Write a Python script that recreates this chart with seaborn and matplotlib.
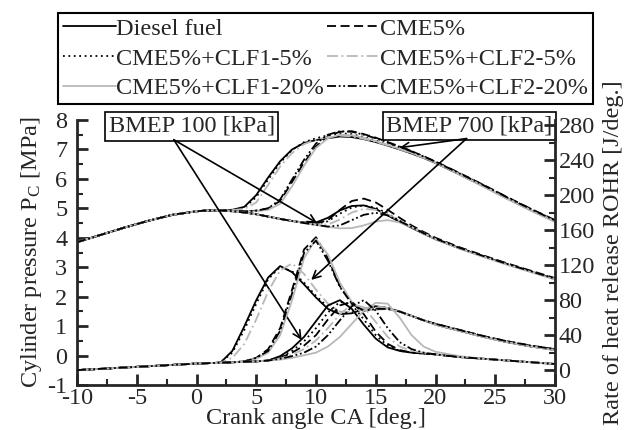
import matplotlib
matplotlib.use("Agg")
import matplotlib.pyplot as plt
from matplotlib.ticker import MultipleLocator
import seaborn as sns
import pandas as pd

# ---------------- data ----------------
CA = [-10, -8, -6, -4, -2, 0, 1, 2, 3, 4, 5, 6, 7, 8, 9, 10, 11, 12, 13, 14, 15,
      16, 17, 18, 19, 20, 22, 24, 26, 28, 30]

FUELS = ["Diesel fuel", "CME5%", "CME5%+CLF1-5%", "CME5%+CLF2-5%",
         "CME5%+CLF1-20%", "CME5%+CLF2-20%"]

# Cylinder pressure, BMEP 700 kPa [MPa]
P700_DIESEL = [3.85, 4.10, 4.35, 4.58, 4.78, 4.90, 4.93, 4.93, 4.95, 5.05, 5.45, 6.05, 6.60, 7.00, 7.22, 7.32,
               7.38, 7.44, 7.42, 7.35, 7.25, 7.13, 7.00, 6.86, 6.71, 6.54, 6.15, 5.75, 5.33, 4.93, 4.55]
P700_CME5 = [3.85, 4.10, 4.35, 4.58, 4.78, 4.90, 4.93, 4.93, 4.92, 4.90, 4.92, 5.00, 5.25, 5.90, 6.55, 7.10,
             7.45, 7.60, 7.62, 7.52, 7.40, 7.25, 7.10, 6.94, 6.77, 6.59, 6.20, 5.80, 5.38, 4.98, 4.60]
P700_CLF1_5 = [3.85, 4.10, 4.35, 4.58, 4.78, 4.90, 4.93, 4.93, 4.95, 5.02, 5.38, 5.98, 6.55, 6.98, 7.25, 7.38,
               7.48, 7.55, 7.52, 7.42, 7.30, 7.17, 7.04, 6.90, 6.75, 6.58, 6.19, 5.79, 5.37, 4.97, 4.58]
P700_CLF2_5 = [3.85, 4.10, 4.35, 4.58, 4.78, 4.90, 4.93, 4.93, 4.94, 4.98, 5.20, 5.80, 6.42, 6.88, 7.18, 7.33,
               7.42, 7.47, 7.44, 7.36, 7.26, 7.14, 7.01, 6.87, 6.72, 6.55, 6.16, 5.76, 5.34, 4.94, 4.56]
P700_CLF1_20 = [3.85, 4.10, 4.35, 4.58, 4.78, 4.90, 4.93, 4.93, 4.92, 4.90, 4.90, 4.95, 5.15, 5.75, 6.45, 7.05,
                7.38, 7.50, 7.48, 7.40, 7.28, 7.15, 7.02, 6.88, 6.72, 6.55, 6.15, 5.74, 5.32, 4.92, 4.54]
P700_CLF2_20 = [3.85, 4.10, 4.35, 4.58, 4.78, 4.90, 4.93, 4.93, 4.92, 4.90, 4.92, 5.00, 5.30, 5.98, 6.65, 7.20,
                7.50, 7.62, 7.60, 7.50, 7.38, 7.24, 7.09, 6.93, 6.76, 6.58, 6.19, 5.79, 5.37, 4.97, 4.59]

# Cylinder pressure, BMEP 100 kPa [MPa]
P100_DIESEL = [3.85, 4.10, 4.35, 4.58, 4.78, 4.90, 4.93, 4.93, 4.90, 4.86, 4.80, 4.72, 4.64, 4.57, 4.52, 4.52,
               4.68, 4.93, 5.08, 5.10, 4.98, 4.76, 4.54, 4.34, 4.14, 3.95, 3.64, 3.37, 3.10, 2.85, 2.60]
P100_CME5 = [3.85, 4.10, 4.35, 4.58, 4.78, 4.90, 4.93, 4.93, 4.90, 4.86, 4.80, 4.72, 4.64, 4.57, 4.51, 4.48,
             4.60, 4.95, 5.25, 5.33, 5.20, 4.95, 4.68, 4.42, 4.20, 4.00, 3.68, 3.40, 3.13, 2.88, 2.63]
P100_CLF1_5 = [3.85, 4.10, 4.35, 4.58, 4.78, 4.90, 4.93, 4.93, 4.90, 4.86, 4.80, 4.72, 4.64, 4.57, 4.51, 4.48,
               4.56, 4.82, 5.03, 5.10, 5.02, 4.82, 4.58, 4.36, 4.15, 3.96, 3.65, 3.37, 3.11, 2.86, 2.61]
P100_CLF2_5 = [3.85, 4.10, 4.35, 4.58, 4.78, 4.90, 4.93, 4.93, 4.90, 4.86, 4.80, 4.72, 4.64, 4.57, 4.51, 4.45,
               4.45, 4.62, 4.86, 4.98, 4.95, 4.80, 4.58, 4.37, 4.16, 3.96, 3.65, 3.37, 3.10, 2.85, 2.60]
P100_CLF1_20 = [3.85, 4.10, 4.35, 4.58, 4.78, 4.90, 4.93, 4.93, 4.90, 4.86, 4.80, 4.72, 4.64, 4.57, 4.50, 4.43,
                4.37, 4.32, 4.33, 4.42, 4.55, 4.60, 4.52, 4.36, 4.15, 3.95, 3.63, 3.35, 3.08, 2.83, 2.58]
P100_CLF2_20 = [3.85, 4.10, 4.35, 4.58, 4.78, 4.90, 4.93, 4.93, 4.90, 4.86, 4.80, 4.72, 4.64, 4.57, 4.50, 4.44,
                4.38, 4.42, 4.60, 4.78, 4.85, 4.76, 4.56, 4.37, 4.16, 3.97, 3.66, 3.38, 3.11, 2.86, 2.61]

# Rate of heat release, BMEP 700 kPa [J/deg.]
R700_DIESEL = [0, 1.5, 3, 4.5, 6, 7.5, 8, 8.5, 22, 50, 80, 106, 119, 112, 98, 83,
               70, 64, 65, 70, 73, 71, 67, 62, 57, 52, 45, 38, 32, 27, 23]
R700_CME5 = [0, 1.5, 3, 4.5, 6, 7.5, 8, 8.5, 9, 10, 14, 24, 48, 92, 138, 152,
             128, 96, 76, 68, 70, 70, 67, 62, 57, 53, 46, 39, 33, 28, 24]
R700_CLF1_5 = [0, 1.5, 3, 4.5, 6, 7.5, 8, 8.5, 20, 46, 76, 104, 118, 113, 100, 85,
               72, 66, 66, 70, 73, 71, 67, 62, 57, 52, 45, 38, 32, 27, 23]
R700_CLF2_5 = [0, 1.5, 3, 4.5, 6, 7.5, 8, 8.5, 14, 30, 58, 90, 114, 122, 110, 92,
               76, 67, 66, 70, 73, 71, 67, 62, 57, 52, 45, 38, 32, 27, 23]
R700_CLF1_20 = [0, 1.5, 3, 4.5, 6, 7.5, 8, 8.5, 9, 10, 13, 20, 40, 80, 128, 150,
                132, 100, 78, 68, 69, 70, 67, 62, 57, 52, 45, 38, 32, 27, 23]
R700_CLF2_20 = [0, 1.5, 3, 4.5, 6, 7.5, 8, 8.5, 9, 10, 14, 22, 45, 88, 134, 148,
                125, 95, 76, 68, 70, 70, 67, 62, 57, 53, 46, 39, 33, 28, 24]

# Rate of heat release, BMEP 100 kPa [J/deg.]
R100_DIESEL = [0, 1.5, 3, 4.5, 6, 7.5, 8, 8.5, 9, 9.5, 10, 11, 16, 25, 38, 56,
               74, 80, 70, 52, 36, 26, 22, 20, 19, 18, 15, 13, 11, 9, 7]
R100_CME5 = [0, 1.5, 3, 4.5, 6, 7.5, 8, 8.5, 9, 9.5, 10, 11, 14, 20, 28, 40,
             58, 74, 78, 64, 44, 30, 23, 20, 19, 18, 15, 13, 11, 9, 7]
R100_CLF1_5 = [0, 1.5, 3, 4.5, 6, 7.5, 8, 8.5, 9, 9.5, 10, 11, 15, 22, 33, 48,
               66, 78, 75, 58, 40, 28, 22, 20, 19, 18, 15, 13, 11, 9, 7]
R100_CLF2_5 = [0, 1.5, 3, 4.5, 6, 7.5, 8, 8.5, 9, 9.5, 10, 11, 13, 18, 24, 34,
               48, 64, 75, 72, 55, 38, 27, 22, 20, 18, 15, 13, 11, 9, 7]
R100_CLF1_20 = [0, 1.5, 3, 4.5, 6, 7.5, 8, 8.5, 9, 9.5, 10, 11, 12, 14, 17, 20,
                27, 38, 53, 68, 77, 76, 60, 40, 27, 21, 16, 13, 11, 9, 7]
R100_CLF2_20 = [0, 1.5, 3, 4.5, 6, 7.5, 8, 8.5, 9, 9.5, 10, 11, 13, 16, 20, 27,
                40, 57, 73, 80, 68, 48, 32, 24, 20, 18, 15, 13, 11, 9, 7]

# ---------------- style ----------------
sns.set_style("ticks")
plt.rcParams["font.family"] = ["Liberation Serif", "DejaVu Serif"]
plt.rcParams["mathtext.fontset"] = "custom"
plt.rcParams["mathtext.rm"] = "Liberation Serif"
plt.rcParams["mathtext.it"] = "Liberation Serif:italic"
plt.rcParams["axes.unicode_minus"] = False
FS = 17.5

GRAY = "#b8b8b8"
STYLES = {
    "Diesel fuel": dict(color="black", linestyle="-"),
    "CME5%": dict(color="black", linestyle=(0, (5, 2.5))),
    "CME5%+CLF1-5%": dict(color="black", linestyle=(0, (1, 2))),
    "CME5%+CLF2-5%": dict(color=GRAY, linestyle=(0, (6, 2, 1, 2))),
    "CME5%+CLF1-20%": dict(color=GRAY, linestyle="-"),
    "CME5%+CLF2-20%": dict(color="black", linestyle=(0, (5, 1.5, 1, 1.5, 1, 1.5))),
}

P_SETS = [
    [P700_DIESEL, P700_CME5, P700_CLF1_5, P700_CLF2_5, P700_CLF1_20, P700_CLF2_20],
    [P100_DIESEL, P100_CME5, P100_CLF1_5, P100_CLF2_5, P100_CLF1_20, P100_CLF2_20],
]
R_SETS = [
    [R700_DIESEL, R700_CME5, R700_CLF1_5, R700_CLF2_5, R700_CLF1_20, R700_CLF2_20],
    [R100_DIESEL, R100_CME5, R100_CLF1_5, R100_CLF2_5, R100_CLF1_20, R100_CLF2_20],
]

fig = plt.figure(figsize=(6.32, 4.30), dpi=100)
ax = fig.add_axes([77 / 632, 45 / 430, 478 / 632, 265 / 430])
ax2 = ax.twinx()

LW = 1.3
handles = {}
for sets, axis in ((P_SETS, ax), (R_SETS, ax2)):
    for series in sets:
        for fuel, vals in zip(FUELS, series):
            df = pd.DataFrame({"CA": CA, "v": vals})
            sns.lineplot(data=df, x="CA", y="v", ax=axis, estimator=None, sort=False,
                         linewidth=LW, **STYLES[fuel])
            handles.setdefault(fuel, axis.lines[-1])

ax.set_xlim(-10, 30)
ax.set_ylim(-1, 8)
ax2.set_ylim(-17, 286)
ax.xaxis.set_major_locator(MultipleLocator(5))
ax.xaxis.set_minor_locator(MultipleLocator(2.5))
ax.yaxis.set_major_locator(MultipleLocator(1))
ax.yaxis.set_minor_locator(MultipleLocator(0.5))
ax2.set_yticks(range(0, 281, 40))
ax2.yaxis.set_minor_locator(MultipleLocator(20))

for a in (ax, ax2):
    a.tick_params(which="major", direction="in", length=8, width=2, labelsize=FS, pad=2.5)
    a.tick_params(which="minor", direction="in", length=4, width=1.5)
    for s in a.spines.values():
        s.set_linewidth(2)
    a.spines["top"].set_visible(False)
ax.tick_params(axis="y", pad=7)
ax.spines["right"].set_visible(False)
ax2.spines["left"].set_visible(False)
ax2.spines["bottom"].set_visible(False)
ax2.spines["right"].set_visible(True)

ax.set_xlabel("Crank angle CA [deg.]", fontsize=FS, labelpad=-1)
ax.set_ylabel(r"Cylinder pressure P$_\mathrm{C}$ [MPa]", fontsize=FS, labelpad=2)
ax2.set_ylabel("Rate of heat release ROHR [J/deg.]", fontsize=FS, labelpad=6)

# annotations
box = dict(boxstyle="square,pad=0.15", fc="white", ec="black", lw=1.2)
ax.text(-0.4, 7.78, "BMEP 100 [kPa]", fontsize=FS, ha="center", va="center", bbox=box, zorder=5)
ax.text(22.85, 7.79, "BMEP 700 [kPa]", fontsize=FS, ha="center", va="center", bbox=box, zorder=5)
arrow = dict(arrowstyle="->", lw=1.2, color="black", shrinkA=0, shrinkB=0, mutation_scale=14)
for org, tgt in (((-1.9, 7.33), (10.1, 4.5)), ((-1.9, 7.33), (8.8, 0.53)),
                 ((22.6, 7.37), (17.0, 7.06)), ((22.6, 7.37), (9.6, 2.57))):
    ax.annotate("", xy=tgt, xytext=org, arrowprops=arrow, zorder=6)

order = ["Diesel fuel", "CME5%+CLF1-5%", "CME5%+CLF1-20%",
         "CME5%", "CME5%+CLF2-5%", "CME5%+CLF2-20%"]
leg = fig.legend([handles[k] for k in order], order, ncol=2, loc="upper left",
                 bbox_to_anchor=(58 / 632, 1 - 13 / 430), frameon=True, fancybox=False,
                 edgecolor="black", framealpha=1, fontsize=FS, borderpad=0.2,
                 handlelength=2.2, handletextpad=0.0, columnspacing=0.1,
                 labelspacing=0.32, borderaxespad=0)
leg.get_frame().set_linewidth(1.5)

fig.savefig("out.png", dpi=100)
